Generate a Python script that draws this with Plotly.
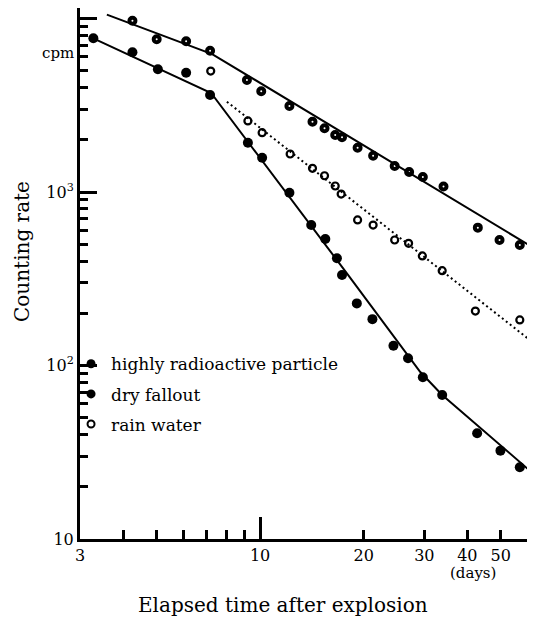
import plotly.graph_objects as go
import math

# ---- data (days after explosion, counting rate in cpm) ----
days_particle = [4.26, 5.01, 6.10, 7.16, 9.16, 10.08, 12.17, 14.2, 15.39, 16.53, 17.3,
                 19.2, 21.3, 24.6, 27.1, 29.7, 34.1, 42.9, 49.6, 56.8]
cpm_particle = [9710, 7590, 7390, 6520, 4420, 3805, 3130, 2542, 2330, 2131, 2066,
                1800, 1619, 1412, 1304, 1221, 1076, 623, 529, 495]

days_dry = [3.28, 4.26, 5.05, 6.10, 7.16, 9.22, 10.14, 12.17, 14.08, 15.47, 16.72, 17.3,
            19.1, 21.2, 24.4, 26.9, 29.7, 33.8, 42.7, 49.9, 56.8]
cpm_dry = [7690, 6390, 5097, 4870, 3623, 1924, 1577, 991, 645, 536, 415, 332,
           228, 185, 130, 110, 85.5, 67.6, 40.7, 32.3, 25.9]

days_rain = [7.19, 9.22, 10.14, 12.23, 14.2, 15.39, 16.53, 17.2, 19.2, 21.3, 24.6, 27.0,
             29.6, 33.8, 42.2, 56.8]
cpm_rain = [4980, 2567, 2197, 1656, 1370, 1241, 1083, 973, 690, 645, 529, 506,
            428, 352, 206, 183]

# fitted curves
fit_particle_days = [3.59, 7.26, 60]
fit_particle_cpm = [10520, 6240, 498]
fit_dry_days = [3.28, 7.21, 18.03, 29.2, 33.8, 60]
fit_dry_cpm = [7690, 3721, 332, 91.7, 67.6, 25.3]
fit_rain_days = [8.01, 60]
fit_rain_cpm = [3315, 143]

legend_labels = ["highly radioactive particle", "dry fallout", "rain water"]

x_label_vals = [3, 10, 20, 30, 40, 50]
x_label_text = ["3", "10", "20", "30", "40", "50"]
x_minor_vals = [4, 5, 6, 7, 8, 9]
x_long_tick = [10]

y_major_vals = [10, 100, 1000, 10000]
y_major_text = ["10", "10<sup>2</sup>", "10<sup>3</sup>", ""]
y_minor_vals = [m * d for d in (10, 100, 1000) for m in range(2, 10)]

FONT = "DejaVu Serif"
INK = "black"

# the page body has an 8px margin; the figure is sized so that the plot area
# lands at page x 80..528, y 8..539
PLOT_H = 531
PLOT_W = 448


def px(xp):
    return (xp - 80) / PLOT_W


def py(yp):
    return (539 - yp) / PLOT_H


fig = go.Figure()

# fit lines
fig.add_trace(go.Scatter(x=fit_particle_days, y=fit_particle_cpm, mode="lines",
                         line=dict(color=INK, width=2), showlegend=False))
fig.add_trace(go.Scatter(x=fit_dry_days, y=fit_dry_cpm, mode="lines",
                         line=dict(color=INK, width=2), showlegend=False))
fig.add_trace(go.Scatter(x=fit_rain_days, y=fit_rain_cpm, mode="lines",
                         line=dict(color=INK, width=2, dash="2px,3px"), showlegend=False,
                         xaxis="x2"))

# data points
fig.add_trace(go.Scatter(x=days_particle, y=cpm_particle, mode="markers",
                         marker=dict(symbol="circle-open", size=6, color=INK,
                                     line=dict(width=4, color=INK)),
                         showlegend=False))
fig.add_trace(go.Scatter(x=days_dry, y=cpm_dry, mode="markers",
                         marker=dict(symbol="circle", size=10, color=INK),
                         showlegend=False))
fig.add_trace(go.Scatter(x=days_rain, y=cpm_rain, mode="markers",
                         marker=dict(symbol="circle-open", size=7, color=INK,
                                     line=dict(width=2.2, color=INK)),
                         showlegend=False))

# legend entries
legend_markers = [dict(symbol="circle", size=9, color=INK),
                  dict(symbol="circle", size=9, color=INK),
                  dict(symbol="circle-open", size=7, color=INK, line=dict(width=2, color=INK))]
for i, (lab, mk) in enumerate(zip(legend_labels, legend_markers)):
    fig.add_trace(go.Scatter(x=[None], y=[None], mode="markers", marker=mk, name=lab,
                             legendgroup=f"g{i}", showlegend=True))

xrange = [math.log10(3), math.log10(60)]
fig.update_layout(
    width=527, height=625,
    margin=dict(l=72, r=7, t=0, b=94, autoexpand=False),
    paper_bgcolor="white", plot_bgcolor="white",
    font=dict(family=FONT, color=INK, size=15),
    xaxis=dict(type="log", range=xrange, showgrid=False, zeroline=False,
               showline=True, linecolor=INK, linewidth=3, automargin=False,
               tickmode="array", tickvals=x_label_vals, ticktext=x_label_text,
               ticks="inside", ticklen=9, tickwidth=2.5, tickcolor=INK,
               tickfont=dict(size=16, family=FONT),
               minor=dict(tickmode="array", tickvals=x_minor_vals, ticks="inside",
                          ticklen=9, tickwidth=2.5, tickcolor=INK, showgrid=False)),
    xaxis2=dict(type="log", range=xrange, overlaying="x", side="bottom",
                showgrid=False, zeroline=False, showline=False, automargin=False,
                tickmode="array", tickvals=x_long_tick, showticklabels=False,
                ticks="inside", ticklen=22, tickwidth=3, tickcolor=INK),
    yaxis=dict(type="log", range=[1, 4.0605], showgrid=False, zeroline=False,
               showline=True, linecolor=INK, linewidth=3, automargin=False,
               tickmode="array", tickvals=y_major_vals, ticktext=y_major_text,
               ticks="inside", ticklen=17, tickwidth=2.5, tickcolor=INK,
               tickfont=dict(size=16, family=FONT),
               minor=dict(tickmode="array", tickvals=y_minor_vals, ticks="inside",
                          ticklen=8, tickwidth=2.5, tickcolor=INK, showgrid=False)),
    showlegend=True,
    legend=dict(x=-0.02, y=0.363, xanchor="left", yanchor="top",
                bgcolor="rgba(0,0,0,0)", font=dict(size=17, family=FONT),
                traceorder="grouped", tracegroupgap=5, itemwidth=30),
    annotations=[
        dict(text="cpm", xref="paper", yref="paper", x=0, y=py(53),
             xanchor="right", yanchor="middle", xshift=-4, showarrow=False,
             font=dict(size=15, family=FONT)),
        dict(text="(days)", xref="paper", yref="paper", x=px(473),
             y=py(573), xanchor="center", yanchor="middle",
             showarrow=False, font=dict(size=15, family=FONT)),
        dict(text="Counting rate", xref="paper", yref="paper", x=px(22),
             y=py(251), xanchor="center", yanchor="middle", textangle=-90,
             showarrow=False, font=dict(size=20, family=FONT)),
        dict(text="Elapsed time after explosion", xref="paper", yref="paper",
             x=px(283), y=py(605), xanchor="center",
             yanchor="middle", showarrow=False, font=dict(size=20, family=FONT)),
    ],
)

fig.write_html("out.html")
